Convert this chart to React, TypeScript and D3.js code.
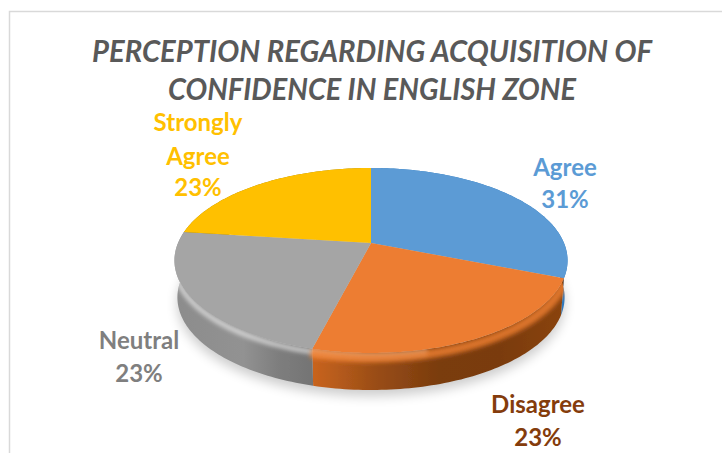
import React from "react";
import * as d3 from "d3";

const titleLines = ["PERCEPTION REGARDING ACQUISITION OF", "CONFIDENCE IN ENGLISH ZONE"];
const categories = ["Agree", "Disagree", "Neutral", "Strongly Agree"];
const values = [31, 23, 23, 23];
const faceColors = ["#5B9BD5", "#ED7D31", "#A5A5A5", "#FFC000"];
const labelColors = ["#5B9BD5", "#843C0C", "#7F7F7F", "#FFC000"];
const wallStops = [
  ["#2F78BC", "#2F78BC"],
  ["#C9641F", "#9A4D16", "#7A3C0E", "#7A3B0D", "#8A4410"],
  ["#8C8C8C", "#8F8F8F", "#929292", "#7E7E7E", "#747474"],
  ["#A08000", "#A08000"],
];
const labelLines = [["Agree", "31%"], ["Disagree", "23%"], ["Neutral", "23%"], ["Strongly", "Agree", "23%"]];
const labelPos = [
  { x: 565, ys: [176, 208] },
  { x: 538, ys: [413, 446] },
  { x: 139, ys: [349, 382] },
  { x: 198, ys: [131, 165, 196] },
];
const titleWidths = [560, 408];

const cx = 371, apexY = 243, A = 193, B = 89.2, K = -0.189, DEPTH = 37;
const project = (angle: number, r = 1): [number, number] => {
  const u = r * Math.sin(angle), v = -r * Math.cos(angle);
  const d = 1 + K * v;
  return [cx + (A * u) / d, apexY + (B * v) / d];
};
const arcPts = (a0: number, a1: number, r = 1) => {
  const n = Math.max(2, Math.ceil(Math.abs(a1 - a0) / 0.02));
  return d3.range(n + 1).map((i) => project(a0 + ((a1 - a0) * i) / n, r));
};
const drop = (p: [number, number]): [number, number] => [cx + (p[0] - cx) * 0.985, p[1] + DEPTH];
const line = d3.line();

export default function App() {
  const arcs = d3.pie<number>().sort(null).startAngle(0).endAngle(2 * Math.PI)(values);
  const whole = line(arcPts(0, 2 * Math.PI))! + "Z";
  const frontTop = arcPts(1.55, 4.85);
  const wallArea = line([...frontTop, ...frontTop.map(drop).reverse()])! + "Z";
  const shine = line(arcPts(2.9, 4.7).map(([x, y]) => [x, y + 3] as [number, number]))!;
  const glow = line(arcPts(1.9, 3.4).map(([x, y]) => [x, y + 5] as [number, number]))!;
  return (
    <svg width={722} height={453} style={{ position: "absolute", left: 0, top: 0, background: "#fff" }}>
      <defs>
        <filter id="sh" x="-20%" y="-20%" width="140%" height="140%"><feGaussianBlur stdDeviation="6" /></filter>
        <filter id="b1" x="-10%" y="-10%" width="120%" height="120%"><feGaussianBlur stdDeviation="0.7" /></filter>
        <filter id="b3" x="-20%" y="-20%" width="140%" height="140%"><feGaussianBlur stdDeviation="2" /></filter>
        <clipPath id="wall"><path d={wallArea} /></clipPath>
        {arcs.map((a, i) => {
          const xs = arcPts(a.startAngle, a.endAngle).map((p) => p[0]);
          return (
            <linearGradient key={i} id={`w${i}`} gradientUnits="userSpaceOnUse"
              x1={i === 1 ? d3.min(xs)! : d3.min(xs)!} x2={d3.max(xs)!} y1={0} y2={0}>
              {wallStops[i].map((c, j, arr) => (
                <stop key={j} offset={j / (arr.length - 1)} stopColor={c} />
              ))}
            </linearGradient>
          );
        })}
      </defs>
      <path d="M9.5 453V11.5H722" fill="none" stroke="#D9D9D9" strokeWidth={1.5} />
      {titleLines.map((t, i) => (
        <text key={t} x={372} y={62 + i * 38} textAnchor="middle" fill="#595959" textLength={titleWidths[i]}
          lengthAdjust="spacingAndGlyphs" fontFamily="Lato, 'Open Sans', sans-serif" fontWeight={700}
          fontStyle="italic" fontSize={31}>{t}</text>
      ))}
      <path d={line(arcPts(0, 2 * Math.PI).map(drop))! + "Z"} transform="translate(0,6)" fill="#000" opacity={0.2} filter="url(#sh)" />
      <g filter="url(#b1)">
        {arcs.map((a, i) => {
          const top = arcPts(a.startAngle, a.endAngle);
          return <path key={i} d={line([...top, ...top.map(drop).reverse()])! + "Z"} fill={`url(#w${i})`} />;
        })}
        <g clipPath="url(#wall)">
          <path d={shine} fill="none" stroke="#fff" strokeOpacity={0.6} strokeWidth={5} filter="url(#b3)" />
          <path d={glow} fill="none" stroke="#F08030" strokeOpacity={0.8} strokeWidth={9} filter="url(#b3)" />
        </g>
        {arcs.map((a, i) => (
          <path key={categories[i]} fill={faceColors[i]}
            d={line([[cx, apexY], ...arcPts(a.startAngle, a.endAngle)])! + "Z"} />
        ))}
      </g>
      {labelLines.map((lines, i) =>
        lines.map((t, j) => (
          <text key={i + t} x={labelPos[i].x} y={labelPos[i].ys[j]} textAnchor="middle" fill={labelColors[i]}
            fontFamily="Lato, 'Open Sans', sans-serif" fontWeight={700} fontSize={24}>{t}</text>
        ))
      )}
    </svg>
  );
}
